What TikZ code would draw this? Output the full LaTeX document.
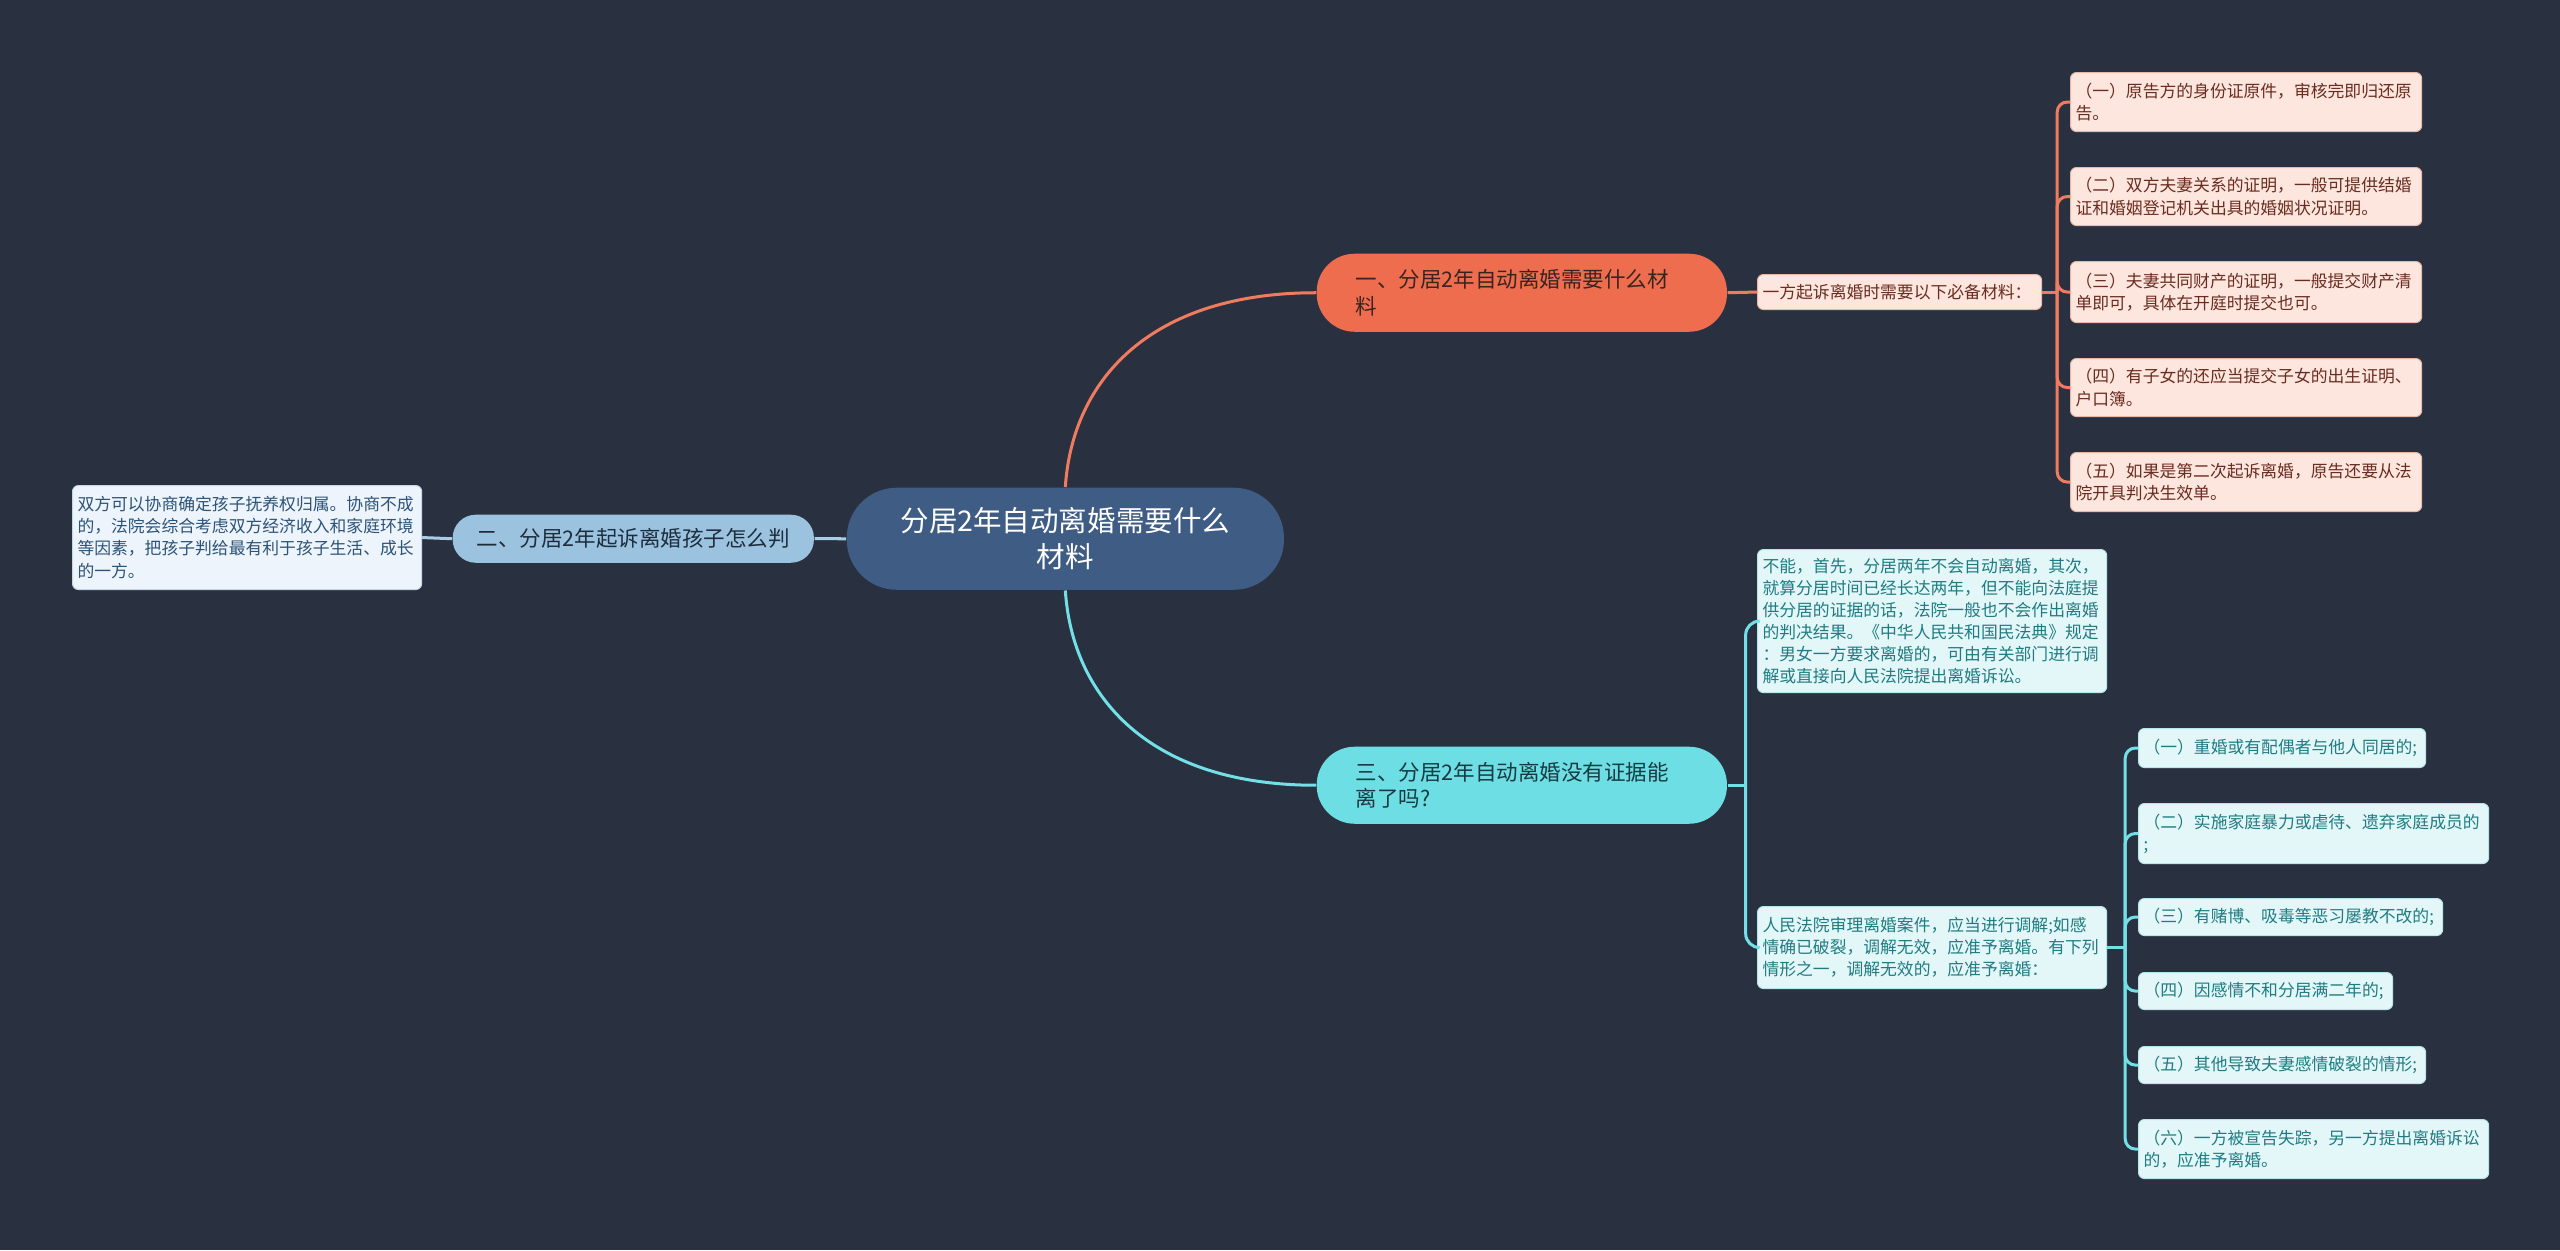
\documentclass[tikz,border=0pt]{standalone}
\usepackage{fontspec}
\setmainfont{Noto Sans CJK SC}
\definecolor{bg}{HTML}{293140}
\definecolor{cfill}{HTML}{3F5C84}
\definecolor{ofill}{HTML}{EE6D4F}
\definecolor{oline}{HTML}{F07B5F}
\definecolor{otext}{HTML}{3A2420}
\definecolor{pinkfill}{HTML}{FDE6DE}
\definecolor{pinkedge}{HTML}{E8B7A8}
\definecolor{pinktext}{HTML}{6A2C20}
\definecolor{bfill}{HTML}{9BC3E0}
\definecolor{bline}{HTML}{A9CDE6}
\definecolor{btext}{HTML}{1E2D3D}
\definecolor{lbfill}{HTML}{EEF4FB}
\definecolor{lbedge}{HTML}{C5D6E6}
\definecolor{lbtext}{HTML}{2C5378}
\definecolor{tfill}{HTML}{6DDFE4}
\definecolor{tline}{HTML}{72E0E6}
\definecolor{ttext}{HTML}{193A42}
\definecolor{cyfill}{HTML}{E3F7F8}
\definecolor{cyedge}{HTML}{B5E6E9}
\definecolor{cytext}{HTML}{1F7C82}
\newcommand\fcentral{\fontsize{8.11pt}{10.24pt}\selectfont}
\newcommand\fbranch{\fontsize{6.12pt}{7.40pt}\selectfont}
\newcommand\fleafsz{\fontsize{4.78pt}{6.26pt}\selectfont}
\tikzset{
  pill/.style={anchor=north west, inner ysep=0pt},
  leafbox/.style={anchor=north west, rounded corners=0.06cm, inner xsep=0.05cm, inner ysep=0pt, align=left, font=\fleafsz, line width=0.01cm},
  pinkleaf/.style={leafbox, fill=pinkfill, draw=pinkedge, text=pinktext},
  blueleaf/.style={leafbox, fill=lbfill, draw=lbedge, text=lbtext},
  cyanleaf/.style={leafbox, fill=cyfill, draw=cyedge, text=cytext},
  ocon/.style={draw=oline, line width=0.03cm},
  bcon/.style={draw=bline, line width=0.03cm},
  tcon/.style={draw=tline, line width=0.03cm},
}
\begin{document}
\begin{tikzpicture}[x=0.01cm,y=-0.01cm]
\path[fill=bg] (0,0) rectangle (2560,1250);

% central
\node[pill, fill=cfill, text=white, font=\fcentral, rounded corners=0.5cm, minimum height=1.02cm, text width=3.37cm, inner xsep=0.5cm, align=center] (c) at (846,487) {分居2年自动离婚需要什么\\材料};

% branch 1
\node[pill, fill=ofill, text=otext, font=\fbranch, rounded corners=0.38cm, minimum height=0.78cm, text width=3.32cm, inner xsep=0.39cm, align=left] (n1) at (1316,253) {一、分居2年自动离婚需要什么材\\料};
\node[pinkleaf, text width=2.74cm, minimum height=0.35cm] (yf) at (1757,274) {一方起诉离婚时需要以下必备材料：};
\node[pinkleaf, text width=3.41cm, minimum height=0.59cm] (p1) at (2070,72) {（一）原告方的身份证原件，审核完即归还原\\告。};
\node[pinkleaf, text width=3.41cm, minimum height=0.58cm] (p2) at (2070,167) {（二）双方夫妻关系的证明，一般可提供结婚\\证和婚姻登记机关出具的婚姻状况证明。};
\node[pinkleaf, text width=3.41cm, minimum height=0.61cm] (p3) at (2070,261) {（三）夫妻共同财产的证明，一般提交财产清\\单即可，具体在开庭时提交也可。};
\node[pinkleaf, text width=3.41cm, minimum height=0.58cm] (p4) at (2070,358) {（四）有子女的还应当提交子女的出生证明、\\户口簿。};
\node[pinkleaf, text width=3.41cm, minimum height=0.59cm] (p5) at (2070,452) {（五）如果是第二次起诉离婚，原告还要从法\\院开具判决生效单。};

% branch 2
\node[pill, fill=bfill, text=btext, font=\fbranch, rounded corners=0.23cm, minimum height=0.48cm, text width=3.21cm, inner xsep=0.2cm, align=center] (n2) at (452,514) {二、分居2年起诉离婚孩子怎么判};
\node[blueleaf, text width=3.39cm, minimum height=1.04cm] (l2) at (72,485) {双方可以协商确定孩子抚养权归属。协商不成\\的，法院会综合考虑双方经济收入和家庭环境\\等因素，把孩子判给最有利于孩子生活、成长\\的一方。};

% branch 3
\node[pill, fill=tfill, text=ttext, font=\fbranch, rounded corners=0.38cm, minimum height=0.77cm, text width=3.32cm, inner xsep=0.39cm, align=left] (n3) at (1316,746) {三、分居2年自动离婚没有证据能\\离了吗?};
\node[cyanleaf, text width=3.39cm, minimum height=1.43cm] (la) at (1757,549) {不能，首先，分居两年不会自动离婚，其次，\\就算分居时间已经长达两年，但不能向法庭提\\供分居的证据的话，法院一般也不会作出离婚\\的判决结果。《中华人民共和国民法典》规定\\：男女一方要求离婚的，可由有关部门进行调\\解或直接向人民法院提出离婚诉讼。};
\node[cyanleaf, text width=3.39cm, minimum height=0.82cm] (lb) at (1757,906) {人民法院审理离婚案件，应当进行调解;如感\\情确已破裂，调解无效，应准予离婚。有下列\\情形之一，调解无效的，应准予离婚：};
\node[cyanleaf, text width=2.77cm, minimum height=0.39cm] (q1) at (2138,728) {（一）重婚或有配偶者与他人同居的;};
\node[cyanleaf, text width=3.40cm, minimum height=0.60cm] (q2) at (2138,803) {（二）实施家庭暴力或虐待、遗弃家庭成员的\\;};
\node[cyanleaf, text width=2.94cm, minimum height=0.37cm] (q3) at (2138,898) {（三）有赌博、吸毒等恶习屡教不改的;};
\node[cyanleaf, text width=2.44cm, minimum height=0.37cm] (q4) at (2138,972) {（四）因感情不和分居满二年的;};
\node[cyanleaf, text width=2.77cm, minimum height=0.37cm] (q5) at (2138,1046) {（五）其他导致夫妻感情破裂的情形;};
\node[cyanleaf, text width=3.40cm, minimum height=0.59cm] (q6) at (2138,1119) {（六）一方被宣告失踪，另一方提出离婚诉讼\\的，应准予离婚。};

% connectors: central
\draw[ocon] (c.north) .. controls +(7,-107) and +(-166,0) .. (n1.west);
\draw[tcon] (c.south) .. controls +(7,107) and +(-166,0) .. (n3.west);
\draw[bcon] (c.west) -- (n2.east);
\draw[bcon] (n2.west) -- (l2.east);

% branch 1 connectors
\draw[ocon] (n1.east) -- (yf.west);
\path (yf.east) ++(15,0) coordinate (b1);
\draw[ocon] (yf.east) -- (b1);
\foreach \k in {p1,p2,p3,p4,p5} {
  \draw[ocon, rounded corners=0.1cm] (b1) |- (\k.west);
}

% branch 3 connectors
\path (n3.east) ++(18,0) coordinate (b3);
\draw[tcon] (n3.east) -- (b3);
\draw[tcon, rounded corners=0.14cm] (b3) |- (la.west);
\draw[tcon, rounded corners=0.14cm] (b3) |- (lb.west);
\path (lb.east) ++(18,0) coordinate (b4);
\draw[tcon] (lb.east) -- (b4);
\foreach \k in {q1,q2,q3,q4,q5,q6} {
  \draw[tcon, rounded corners=0.1cm] (b4) |- (\k.west);
}
\end{tikzpicture}
\end{document}
